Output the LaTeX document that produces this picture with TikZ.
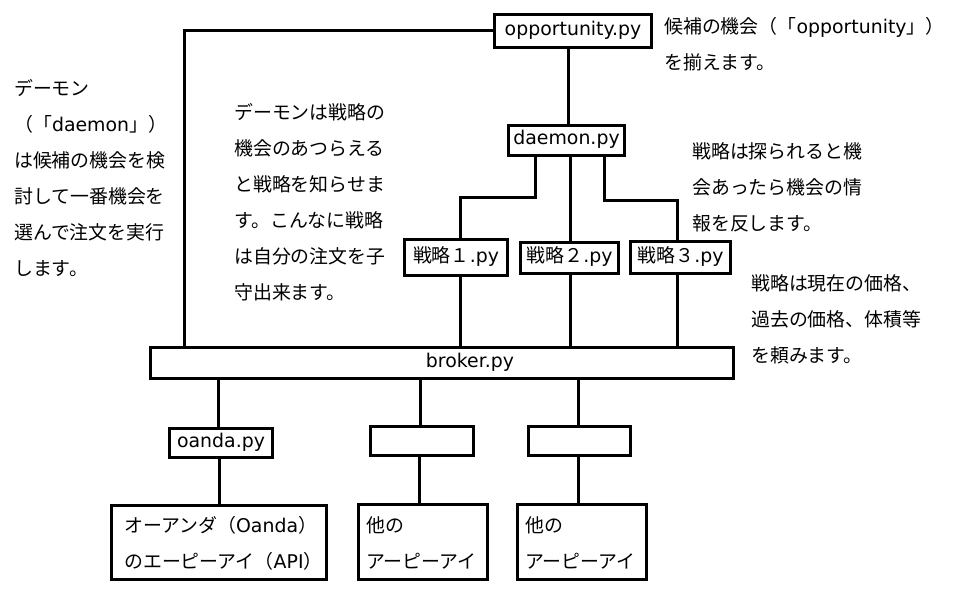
\documentclass[tikz,border=0pt]{standalone}
\usepackage{fontspec}
\setmainfont{Noto Sans CJK JP}
\newfontfamily\latfont{DejaVu Sans}
\newcommand{\lx}[1]{{\latfont #1}}
\begin{document}
\begin{tikzpicture}[x=1pt,y=-1pt,
  every node/.style={font=\fontsize{18.9pt}{36pt}\selectfont},
  box/.style={draw, line width=3pt, inner sep=0pt, text height=1.1em, text depth=0.2em},
  txt/.style={anchor=base west, inner sep=0pt, align=left},
  wire/.style={line width=3pt}]
\useasboundingbox (0,0) rectangle (956,599);
% boxes
\node[box, minimum width=157pt, minimum height=33pt] (opp) at (573,31) {\lx{opportunity.py}};
\node[box, minimum width=116pt, minimum height=30pt] (daemon) at (566.5,140.5) {\lx{daemon.py}};
\node[box, minimum width=103pt, minimum height=36pt] (s1) at (456,257.5) {戦略１\lx{.py}};
\node[box, minimum width=98pt, minimum height=31pt] (s2) at (569.5,258) {戦略２\lx{.py}};
\node[box, minimum width=100pt, minimum height=32pt] (s3) at (680.5,257.5) {戦略３\lx{.py}};
\node[box, minimum width=583pt, minimum height=31pt] (broker) at (442,363) {\hspace*{56pt}\lx{broker.py}};
\node[box, minimum width=103pt, minimum height=29pt] (oanda) at (221,443) {\lx{oanda.py}};
\node[box, minimum width=103pt, minimum height=29pt] (ea) at (422,441) {};
\node[box, minimum width=102pt, minimum height=29pt] (eb) at (579.5,441) {};
\node[box, minimum width=215pt, minimum height=74pt] (apio) at (219,542.5) {};
\node[box, minimum width=129pt, minimum height=75pt] (apia) at (423,542) {};
\node[box, minimum width=129pt, minimum height=75pt] (apib) at (582,542) {};
% box texts (anchor at the baseline of the last line)
\node[txt] (apiotext) at (124,568.5) {オーアンダ（\lx{Oanda}）\\のエーピーアイ（\lx{API}）};
\node[txt] (apiatext) at (366,568.5) {他の\\アーピーアイ};
\node[txt] (apibtext) at (525,568.5) {他の\\アーピーアイ};
% free texts
\node[txt] (t1) at (14,275) {デーモン\\（「\lx{daemon}」）\\は候補の機会を検\\討して一番機会を\\選んで注文を実行\\します。};
\node[txt] (t2) at (234,299) {デーモンは戦略の\\機会のあつらえる\\と戦略を知らせま\\す。こんなに戦略\\は自分の注文を子\\守出来ます。};
\node[txt] (t3) at (664,70) {候補の機会（「\lx{opportunity}」）\\を揃えます。};
\node[txt] (t4) at (692,230) {戦略は探られると機\\会あったら機会の情\\報を反します。};
\node[txt] (t5) at (751,362) {戦略は現在の価格、\\過去の価格、体積等\\を頼みます。};
% connectors
\draw[wire] (opp.west) -| (184.5,0 |- broker.north);
\draw[wire] (568,0 |- opp.south) -- (568,0 |- daemon.north);
\draw[wire] (535,0 |- daemon.south) -- (535,197) -| (460,0 |- s1.north);
\draw[wire] (570,0 |- daemon.south) -- (570,0 |- s2.north);
\draw[wire] (604,0 |- daemon.south) -- (604,200) -| (677,0 |- s3.north);
\draw[wire] (460,0 |- s1.south) -- (460,0 |- broker.north);
\draw[wire] (570,0 |- s2.south) -- (570,0 |- broker.north);
\draw[wire] (677,0 |- s3.south) -- (677,0 |- broker.north);
\draw[wire] (218.5,0 |- broker.south) -- (218.5,0 |- oanda.north);
\draw[wire] (219,0 |- oanda.south) -- (219,0 |- apio.north);
\draw[wire] (420.5,0 |- broker.south) -- (420.5,0 |- ea.north);
\draw[wire] (419,0 |- ea.south) -- (419,0 |- apia.north);
\draw[wire] (578,0 |- broker.south) -- (578,0 |- eb.north);
\draw[wire] (578,0 |- eb.south) -- (578,0 |- apib.north);
\end{tikzpicture}
\end{document}
